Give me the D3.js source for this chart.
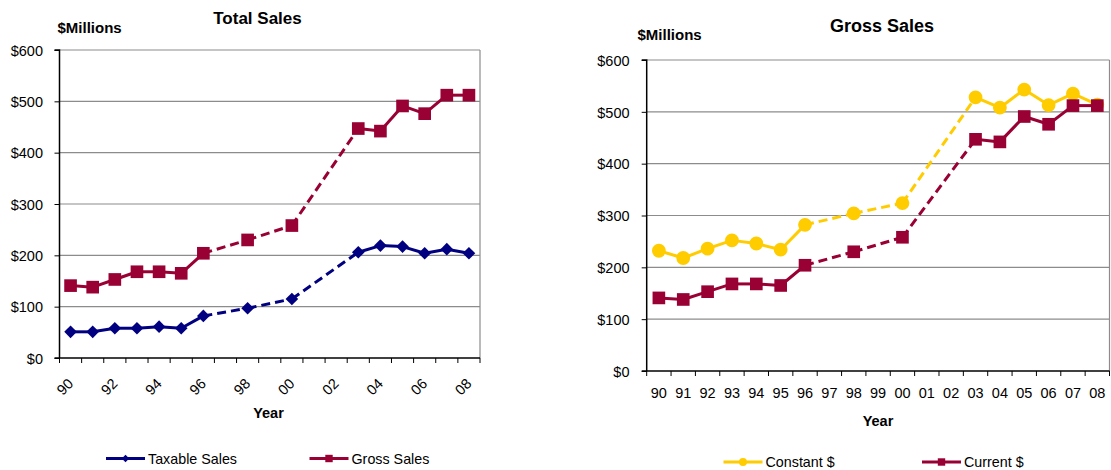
<!DOCTYPE html>
<html>
<head>
<meta charset="utf-8">
<script src="https://cdn.jsdelivr.net/npm/d3@7"></script>
<style>
  html, body { margin: 0; padding: 0; background: #fff; }
  svg { display: block; font-family: "Liberation Sans", Arial, sans-serif; }
</style>
</head>
<body>
<svg id="chart" width="1111" height="470"></svg>
<script>
// ---- Data ----
const categories = ["90","91","92","93","94","95","96","97","98","99","00","01","02","03","04","05","06","07","08"];
const leftTickLabels = ["90","92","94","96","98","00","02","04","06","08"];
const dataYears = ["90","91","92","93","94","95","96","98","00","03","04","05","06","07","08"];
const taxableSales = [51, 51, 58, 58, 61, 58, 82, 97, 115, 206, 219, 217, 204, 212, 204];
const grossSales   = [141, 138, 153, 168, 168, 165, 204, 230, 258, 447, 442, 491, 476, 512, 512];
const constantDollars = [232, 218, 236, 252, 246, 234, 282, 304, 324, 528, 508, 543, 513, 535, 514];
const currentDollars  = grossSales;
const yTicks = [0, 100, 200, 300, 400, 500, 600];

const NAVY = "#000080", MAROON = "#990033", GOLD = "#FFCC00";
const svg = d3.select("#chart");

function yearIndex(y) { return categories.indexOf(y); }

function markerPath(type, size) {
  if (type === "diamond") return d3.symbol().type(d3.symbolSquare).size(size)();
  if (type === "circle") return d3.symbol().type(d3.symbolCircle).size(size)();
  return d3.symbol().type(d3.symbolSquare).size(size)();
}
function markerRot(type) { return type === "diamond" ? " rotate(45)" : ""; }

function drawChart(opt) {
  const g = svg.append("g");
  const x = d3.scaleBand().domain(categories).range([opt.x0, opt.x1]).paddingInner(0).paddingOuter(0);
  const y = d3.scaleLinear().domain([0, 600]).range([opt.y1, opt.y0]);

  // gridlines
  g.selectAll(".grid").data(yTicks.filter(d => d > 0)).enter().append("line")
    .attr("x1", opt.x0).attr("x2", opt.x1)
    .attr("y1", d => y(d)).attr("y2", d => y(d))
    .attr("stroke", "#8c8c8c").attr("stroke-width", 1.2);
  // right border
  g.append("line").attr("x1", opt.x1).attr("x2", opt.x1).attr("y1", y(600)).attr("y2", y(0))
    .attr("stroke", "#8c8c8c").attr("stroke-width", 1.2);

  // y axis
  const yAxis = d3.axisLeft(y).tickValues(yTicks).tickSize(5).tickFormat(d => "$" + d);
  const ya = g.append("g").attr("transform", `translate(${opt.x0},0)`).call(yAxis);
  ya.select(".domain").attr("stroke", "#000").attr("stroke-width", 1.5).attr("d", `M-5,${y(600)}H0V${y(0)}`);
  ya.selectAll(".tick line").attr("stroke", "#000");
  ya.selectAll(".tick text").attr("font-size", "14.5px").attr("fill", "#000")
    .attr("x", -(opt.x0 - opt.yLabelRight)).attr("dy", "0.36em")
    .style("font-family", "'Liberation Sans', Arial, sans-serif");

  // x axis line and boundary ticks
  g.append("line").attr("x1", opt.x0 - 5).attr("x2", opt.x1).attr("y1", y(0)).attr("y2", y(0))
    .attr("stroke", "#000").attr("stroke-width", 1.5);
  const bounds = categories.map(c => x(c)).concat([opt.x1]);
  g.selectAll(".xtick").data(bounds).enter().append("line")
    .attr("x1", d => d).attr("x2", d => d).attr("y1", y(0)).attr("y2", y(0) + 5)
    .attr("stroke", "#000").attr("stroke-width", 1);

  // x labels
  const cx = c => x(c) + x.bandwidth() / 2;
  if (opt.rotated) {
    g.selectAll(".xl").data(leftTickLabels).enter().append("text")
      .attr("transform", d => `translate(${cx(d)},${y(0) + 23}) rotate(-45)`)
      .attr("text-anchor", "end").attr("dy", "0.35em")
      .attr("font-size", "14.5px").attr("fill", "#000").text(d => d);
  } else {
    g.selectAll(".xl").data(categories).enter().append("text")
      .attr("x", d => cx(d)).attr("y", y(0) + 27)
      .attr("text-anchor", "middle")
      .attr("font-size", "14.5px").attr("fill", "#000").text(d => d);
  }

  // titles
  g.append("text").attr("x", opt.titleX).attr("y", opt.titleY).attr("text-anchor", "middle")
    .attr("font-size", opt.titleSize).attr("font-weight", "bold").text(opt.title);
  g.append("text").attr("x", opt.unitX).attr("y", opt.unitY)
    .attr("font-size", "15px").attr("font-weight", "bold").text("$Millions");
  g.append("text").attr("x", opt.yearX).attr("y", opt.yearY).attr("text-anchor", "middle")
    .attr("font-size", "14.5px").attr("font-weight", "bold").text("Year");

  // series
  opt.series.forEach(s => {
    const pts = dataYears.map((yr, i) => ({ yr, v: s.values[i], px: cx(yr), py: y(s.values[i]) }));
    for (let i = 0; i < pts.length - 1; i++) {
      const a = pts[i], b = pts[i + 1];
      const gap = yearIndex(b.yr) - yearIndex(a.yr);
      g.append("line").attr("x1", a.px).attr("y1", a.py).attr("x2", b.px).attr("y2", b.py)
        .attr("stroke", s.color).attr("stroke-width", 3)
        .attr("stroke-dasharray", gap > 1 ? "9,5" : null);
    }
    g.selectAll(null).data(pts).enter().append("path")
      .attr("d", markerPath(s.symbol, s.size))
      .attr("transform", d => `translate(${d.px},${d.py})${markerRot(s.symbol)}`)
      .attr("fill", s.color);
  });

  // legend
  opt.legend.forEach(L => {
    g.append("line").attr("x1", L.x).attr("x2", L.x + 39).attr("y1", L.y).attr("y2", L.y)
      .attr("stroke", L.color).attr("stroke-width", 3);
    g.append("path").attr("d", markerPath(L.symbol, L.size))
      .attr("transform", `translate(${L.x + 19.5},${L.y})${markerRot(L.symbol)}`).attr("fill", L.color);
    g.append("text").attr("x", L.x + 42).attr("y", L.y).attr("dy", "0.36em")
      .attr("font-size", "14.3px").attr("fill", "#000").text(L.label);
  });
}

drawChart({
  x0: 59.5, x1: 480, y0: 50, y1: 358, yLabelRight: 43, rotated: true,
  title: "Total Sales", titleX: 257.5, titleY: 23.5, titleSize: "17px",
  unitX: 57.5, unitY: 32.5, yearX: 268.5, yearY: 418,
  series: [
    { values: taxableSales, color: NAVY, symbol: "diamond", size: 80 },
    { values: grossSales, color: MAROON, symbol: "square", size: 160 }
  ],
  legend: [
    { x: 106, y: 458.5, color: NAVY, symbol: "diamond", size: 28, label: "Taxable Sales" },
    { x: 309.5, y: 458.5, color: MAROON, symbol: "square", size: 55, label: "Gross Sales" }
  ]
});

drawChart({
  x0: 646.7, x1: 1109.5, y0: 60, y1: 371, yLabelRight: 629.5, rotated: false,
  title: "Gross Sales", titleX: 882, titleY: 31.5, titleSize: "18px",
  unitX: 637.5, unitY: 39.5, yearX: 878, yearY: 426,
  series: [
    { values: constantDollars, color: GOLD, symbol: "circle", size: 150 },
    { values: currentDollars, color: MAROON, symbol: "square", size: 160 }
  ],
  legend: [
    { x: 723.5, y: 462, color: GOLD, symbol: "circle", size: 50, label: "Constant $" },
    { x: 922, y: 462, color: MAROON, symbol: "square", size: 55, label: "Current $" }
  ]
});
</script>
</body>
</html>
